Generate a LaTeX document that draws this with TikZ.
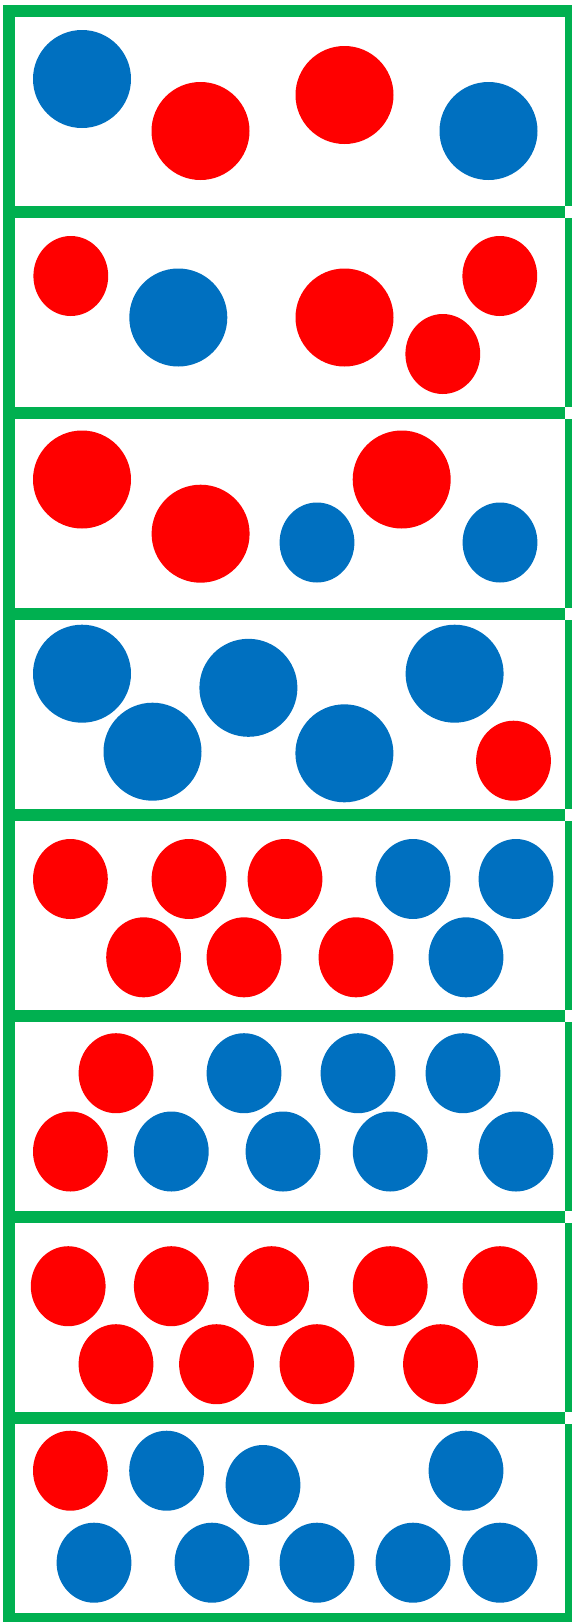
\documentclass[tikz,border=0pt]{standalone}
\usepackage{xcolor}
\usepackage{tikz}

\definecolor{framegreen}{HTML}{00B050}
\definecolor{ballred}{HTML}{FF0000}
\definecolor{ballblue}{HTML}{0070C0}

\newcommand{\bigball}[3]{\fill[#1] (#2,#3) circle[radius=49];}
\newcommand{\smallball}[3]{\fill[#1] (#2,#3) circle[x radius=37.4,y radius=40];}

\begin{document}
\begin{tikzpicture}[x=0.3mm,y=-0.3mm,line width=3.6mm]
    \useasboundingbox (0,0) rectangle (572,1622);
    % frame and dividers
    \draw[framegreen] (576.5,11) -- (9,11) -- (9,1619) -- (576.5,1619);
    \foreach \t in {11,212,...,1418}
      \draw[framegreen] (570.5,\t+6) -- (570.5,\t+195);
    \foreach \t in {212,413,...,1418}
      \draw[framegreen] (9,\t) -- (564.5,\t);
    % panel 1
    \begin{scope}[shift={(0,11)}]
      \bigball{ballblue}{82}{68}
      \bigball{ballred}{200.5}{120}
      \bigball{ballred}{344.5}{84}
      \bigball{ballblue}{488.5}{120}
    \end{scope}
    % panel 2
    \begin{scope}[shift={(0,212)}]
      \smallball{ballred}{70.8}{64}
      \bigball{ballblue}{178.3}{105.5}
      \bigball{ballred}{344.5}{105.5}
      \smallball{ballred}{442.8}{142}
      \smallball{ballred}{499.8}{64}
    \end{scope}
    % panel 3
    \begin{scope}[shift={(0,413)}]
      \bigball{ballred}{82}{66.5}
      \bigball{ballred}{200.6}{120.7}
      \smallball{ballblue}{317}{129.5}
      \bigball{ballred}{401.7}{66.5}
      \smallball{ballblue}{500}{129.5}
    \end{scope}
    % panel 4
    \begin{scope}[shift={(0,614)}]
      \bigball{ballblue}{82}{59.7}
      \bigball{ballblue}{152.5}{137.7}
      \bigball{ballblue}{248.4}{73.8}
      \bigball{ballblue}{344.4}{139.3}
      \bigball{ballblue}{454.6}{59.7}
      \smallball{ballred}{513.5}{146.7}
    \end{scope}
    % panel 5
    \begin{scope}[shift={(0,815)}]
      \foreach \x/\c in {70.4/ballred,189/ballred,285/ballred,413/ballblue,516/ballblue}
        {\smallball{\c}{\x}{64}}
      \foreach \x/\c in {143.6/ballred,244/ballred,356/ballred,466/ballblue}
        {\smallball{\c}{\x}{142.3}}
    \end{scope}
    % panel 6
    \begin{scope}[shift={(0,1016)}]
      \foreach \x/\c in {116/ballred,244/ballblue,358/ballblue,463/ballblue}
        {\smallball{\c}{\x}{57.2}}
      \foreach \x/\c in {70.4/ballred,171.3/ballblue,283/ballblue,390.2/ballblue,516/ballblue}
        {\smallball{\c}{\x}{135.5}}
    \end{scope}
    % panel 7
    \begin{scope}[shift={(0,1217)}]
      \foreach \x in {68.2,171.3,271.6,390.2,500}
        {\smallball{ballred}{\x}{69.2}}
      \foreach \x in {116,216.5,317,440.5}
        {\smallball{ballred}{\x}{147.2}}
    \end{scope}
    % panel 8
    \begin{scope}[shift={(0,1418)}]
      \smallball{ballred}{70.4}{52.7}
      \smallball{ballblue}{166.6}{52.7}
      \smallball{ballblue}{263}{67}
      \smallball{ballblue}{466}{52.7}
      \foreach \x in {94,212,317,413,500}
        {\smallball{ballblue}{\x}{144.7}}
    \end{scope}
  \end{tikzpicture}
\end{document}
